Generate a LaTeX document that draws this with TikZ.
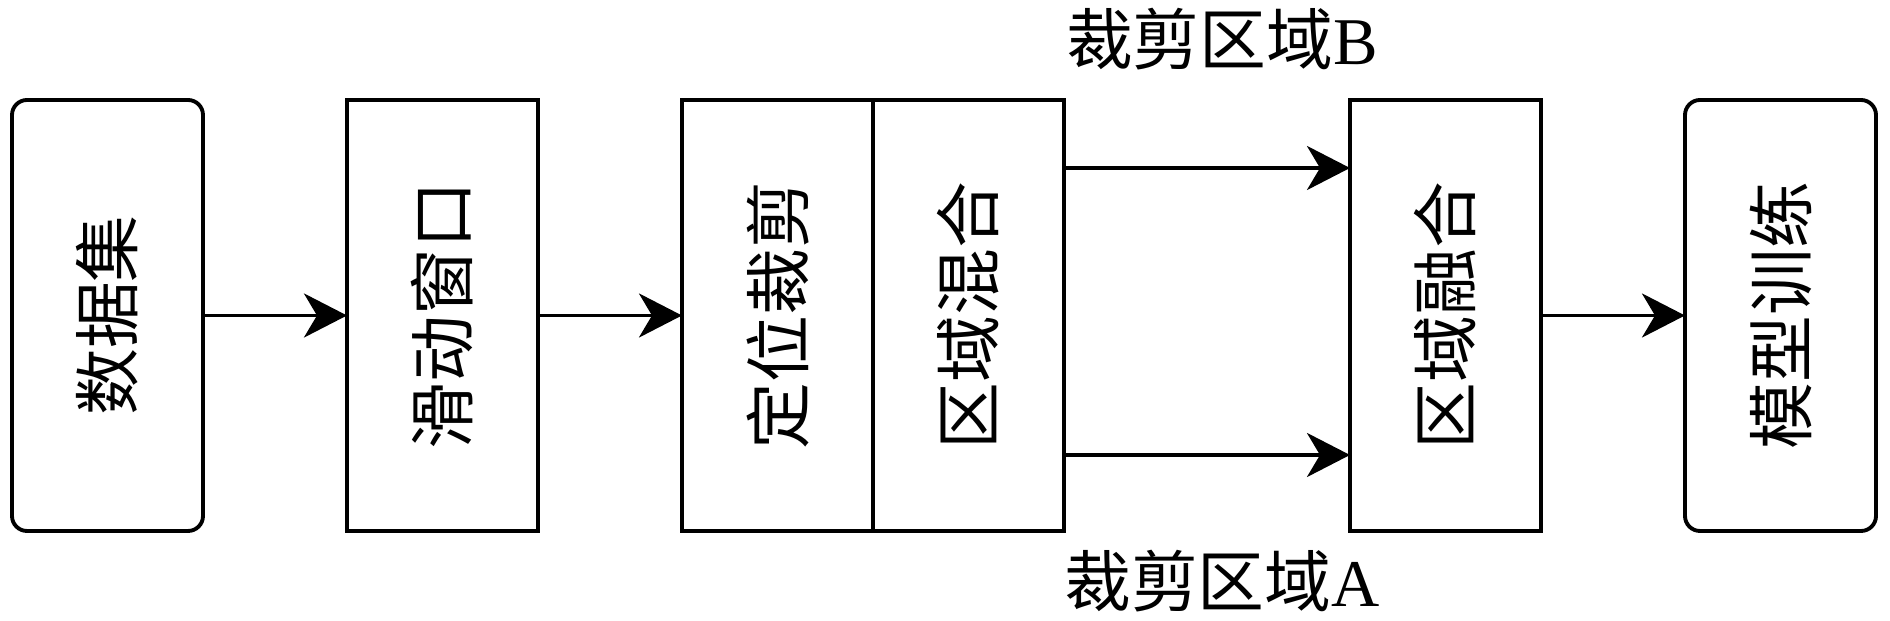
\documentclass[tikz,border=0pt]{standalone}
\usepackage{fontspec}
\setmainfont{Liberation Serif}
\newfontfamily\cjk{Noto Sans CJK SC}
\usetikzlibrary{positioning,arrows.meta}

\begin{document}
\begin{tikzpicture}[>={Stealth[length=4.3mm,width=4.4mm,inset=1.3mm]},
    line width=1.1pt,
    box/.style={draw, minimum width=19.1mm, minimum height=43.1mm,
        inner sep=0pt, outer sep=0pt, font=\cjk\fontsize{19}{19}\selectfont},
    endbox/.style={box, rounded corners=1.5mm},
    lbl/.style={font=\fontsize{19}{19}\selectfont},
    node distance=14.4mm]

\useasboundingbox (0,0) rectangle (18.9,6.21);

% Kaesten
\node[endbox] (data) at (1.075,3.055) {\rotatebox{90}{数据集}};
\node[box, right=of data] (win) {\rotatebox{90}{滑动窗口}};
\node[box, right=of win] (crop) {\rotatebox{90}{定位裁剪}};
\node[box, right=0pt of crop] (mix) {\rotatebox{90}{区域混合}};
\node[box, right=28.6mm of mix] (fuse) {\rotatebox{90}{区域融合}};
\node[endbox, right=of fuse] (train) {\rotatebox{90}{模型训练}};

% Pfeile
\draw[->] (data) -- (win);
\draw[->] (win) -- (crop);
\draw[->] ([yshift=14.75mm]mix.east) -- ([yshift=14.75mm]fuse.west);
\draw[->] ([yshift=-13.95mm]mix.east) -- ([yshift=-13.95mm]fuse.west);
\draw[->] (fuse) -- (train);

% Beschriftungen
\node[lbl] (regB) at (12.22,5.82) {{\cjk 裁剪区域}B};
\node[lbl] (regA) at (12.22,0.40) {{\cjk 裁剪区域}A};

\end{tikzpicture}
\end{document}
